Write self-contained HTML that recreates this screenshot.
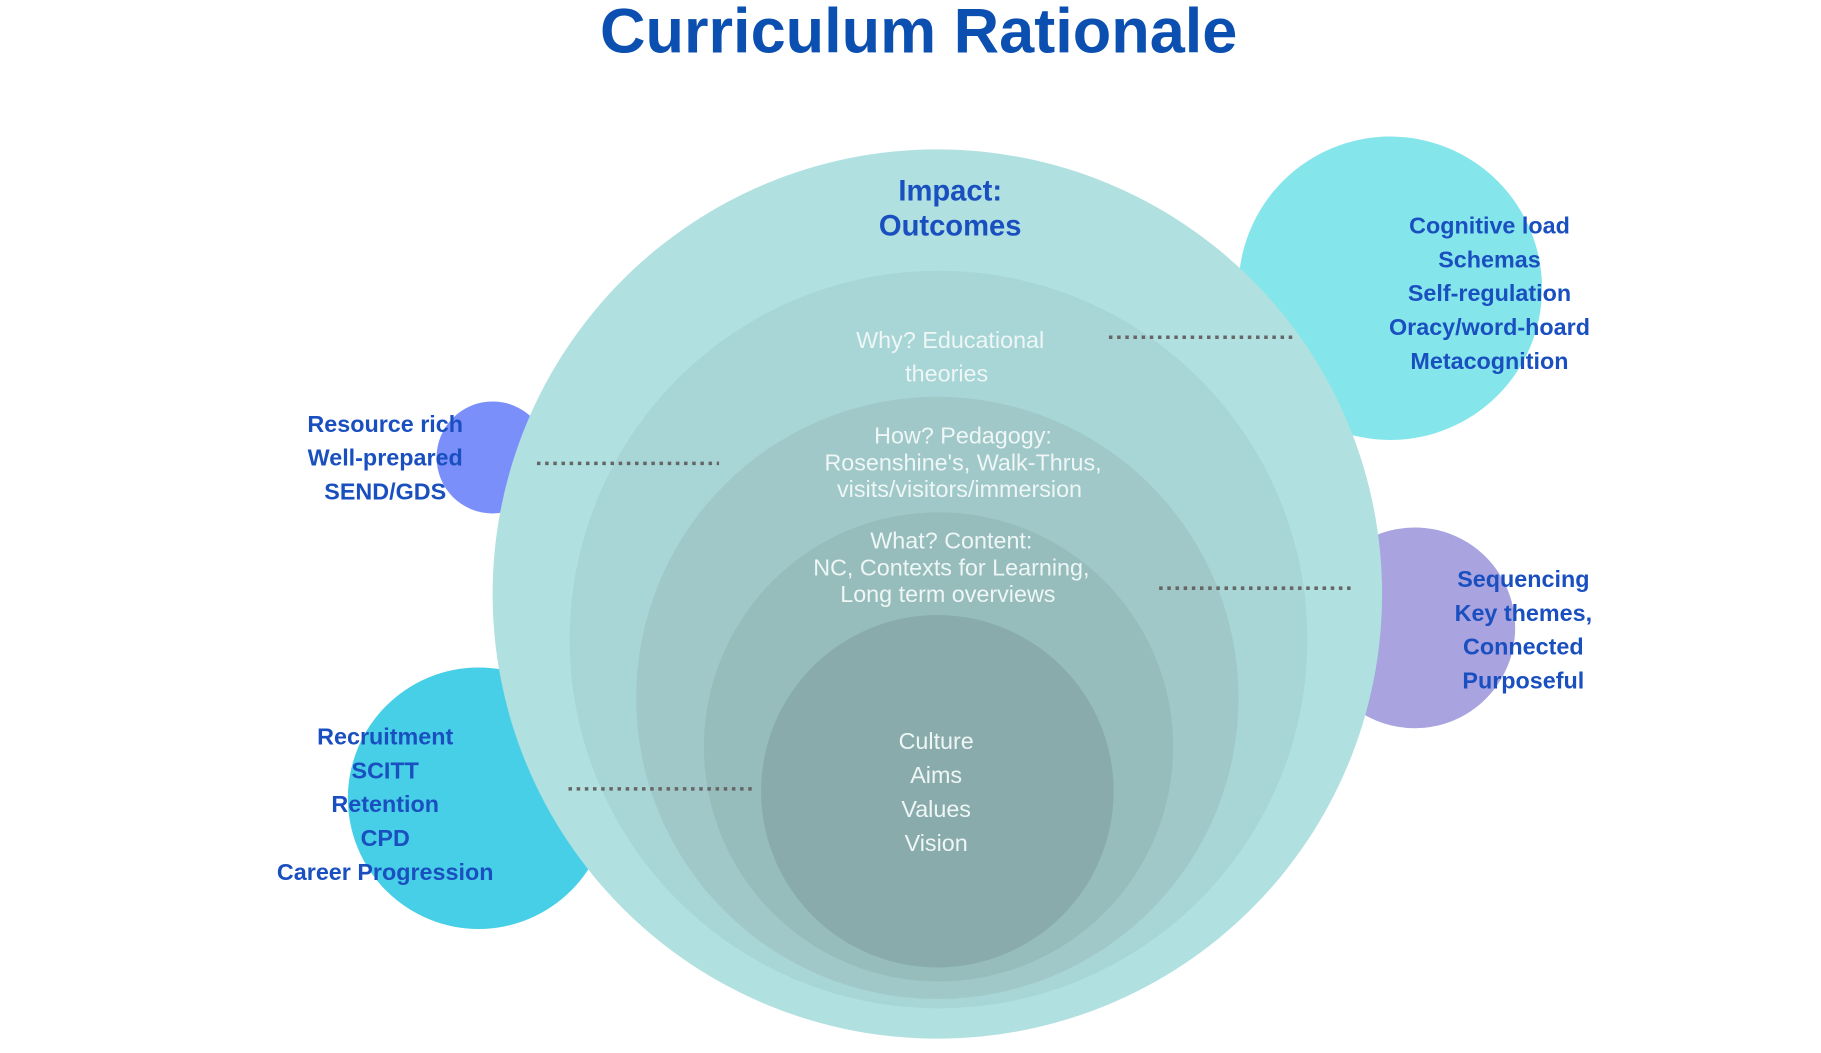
<!DOCTYPE html>
<html><head><style>html,body{margin:0;padding:0;background:#fff;overflow:hidden}</style></head>
<body>
<svg width="1821" height="1048" viewBox="0 0 1560 898" preserveAspectRatio="none" xmlns="http://www.w3.org/2000/svg">
<text x="787" y="45" text-anchor="middle" font-family="Liberation Sans, sans-serif" font-weight="bold" font-size="54" fill="#0b4fb0">Curriculum Rationale</text>
<circle cx="1191" cy="247" r="130" fill="#84e6ea"/>
<circle cx="422" cy="392" r="48" fill="#7b8ffa"/>
<circle cx="410" cy="684" r="112" fill="#46cfe6"/>
<circle cx="1212" cy="538" r="86" fill="#a9a3e0"/>
<circle cx="803" cy="509" r="381" fill="#b0e0e0"/>
<circle cx="804" cy="548" r="316" fill="#a8d5d5"/>
<circle cx="803" cy="598" r="258" fill="#a0c8c8"/>
<circle cx="804" cy="640" r="201" fill="#96bcbc"/>
<circle cx="803" cy="678" r="151" fill="#8aabab"/>
<g stroke="#666" stroke-width="3" stroke-dasharray="3,4">
<line x1="460" y1="397" x2="616" y2="397"/>
<line x1="950" y1="289" x2="1110" y2="289"/>
<line x1="993" y1="504" x2="1157" y2="504"/>
<line x1="487" y1="676" x2="647" y2="676"/>
</g>
<g font-family="Liberation Sans, sans-serif" font-weight="bold" fill="#1a4fc0" text-anchor="middle">
<text x="814" y="172" font-size="25">Impact:</text>
<text x="814" y="202" font-size="25">Outcomes</text>
<g font-size="20">
<text x="1276" y="200">Cognitive load</text>
<text x="1276" y="229">Schemas</text>
<text x="1276" y="258">Self-regulation</text>
<text x="1276" y="287">Oracy/word-hoard</text>
<text x="1276" y="316">Metacognition</text>
<text x="330" y="370">Resource rich</text>
<text x="330" y="399">Well-prepared</text>
<text x="330" y="428">SEND/GDS</text>
<text x="1305" y="503">Sequencing</text>
<text x="1305" y="532">Key themes,</text>
<text x="1305" y="561">Connected</text>
<text x="1305" y="590">Purposeful</text>
<text x="330" y="638">Recruitment</text>
<text x="330" y="667">SCITT</text>
<text x="330" y="696">Retention</text>
<text x="330" y="725">CPD</text>
<text x="330" y="754">Career Progression</text>
</g></g>
<g font-family="Liberation Sans, sans-serif" font-size="20" fill="#eef6f6" text-anchor="middle">
<text x="814" y="298">Why? Educational</text>
<text x="811" y="327">theories</text>
<text x="825" y="380">How? Pedagogy:</text>
<text x="825" y="403">Rosenshine's, Walk-Thrus,</text>
<text x="822" y="426">visits/visitors/immersion</text>
<text x="815" y="470">What? Content:</text>
<text x="815" y="493">NC, Contexts for Learning,</text>
<text x="812" y="516">Long term overviews</text>
<text x="802" y="642">Culture</text>
<text x="802" y="671">Aims</text>
<text x="802" y="700">Values</text>
<text x="802" y="729">Vision</text>
</g>
</svg>
</body></html>
